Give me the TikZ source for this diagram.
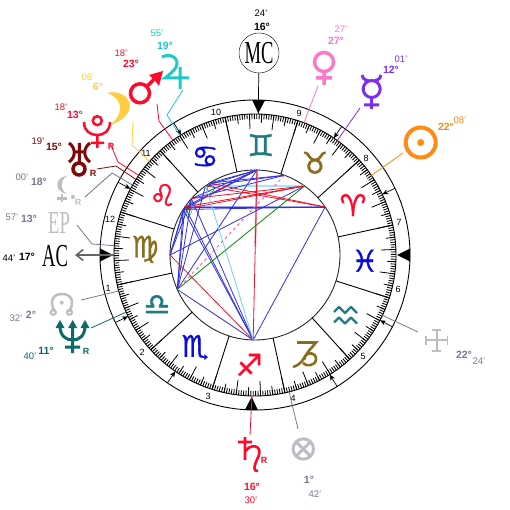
\documentclass[tikz,border=0pt]{standalone}
\usepackage{fontspec}
\setmainfont{Liberation Sans}
\newfontfamily\symfont{DejaVu Sans}[FakeBold=1.2]
\newfontfamily\capfont{Liberation Serif}
\usetikzlibrary{arrows.meta,calc}
\definecolor{fireRed}{HTML}{FF0A2D}
\definecolor{earthBrown}{HTML}{8A6D1E}
\definecolor{airTeal}{HTML}{207C80}
\definecolor{waterBlue}{HTML}{0A0ADC}
\definecolor{sunOrange}{HTML}{FF8A14}
\definecolor{merViolet}{HTML}{7B30F0}
\definecolor{venPink}{HTML}{FF78C8}
\definecolor{jupCyan}{HTML}{1CC8C8}
\definecolor{moonYellow}{HTML}{FFCC44}
\definecolor{uraMaroon}{HTML}{800808}
\definecolor{nepTeal}{HTML}{0E6A66}
\definecolor{ghostGrey}{HTML}{BCBEC4}
\definecolor{slateGrey}{HTML}{747890}
\definecolor{aspBlue}{HTML}{3030E0}
\definecolor{aspRed}{HTML}{E8142C}
\definecolor{aspSky}{HTML}{70D0F0}
\newcommand{\capSq}[1]{\scalebox{0.58}[1]{#1}}
\begin{document}
\begin{tikzpicture}
[x=1pt,y=-1pt,
    signDecorate/.style={inner sep=0pt,font=\symfont\fontsize{30}{30}\selectfont},%
    degDecorate/.style={inner sep=0pt,font=\bfseries\fontsize{10.5}{11}\selectfont},%
    minDecorate/.style={inner sep=0pt,font=\fontsize{9.5}{10}\selectfont},%
    retroDecorate/.style={inner sep=0pt,font=\bfseries\fontsize{9}{10}\selectfont},%
    capDecorate/.style={inner sep=0pt,font=\capfont\fontsize{32}{32}\selectfont},%
    houseDecorate/.style={inner sep=0pt,font=\fontsize{9}{10}\selectfont},%
    lineDecorate/.style={line width=0.8pt},%
    aspectDecorate/.style={line width=0.8pt},%
    glyphDecorate/.style={line width=3pt,fill=none}]
    \useasboundingbox (0,0) rectangle (510,510);
    \begin{scope}[shift={(255,255)},y=1pt]
    %% rings and ticks
    \draw[line width=0.9pt] (0,0) circle (155);
    \draw[line width=0.9pt] (0,0) circle (141);
    \draw[black!85,line width=0.9pt] (0,0) circle (85);
    \foreach \a in {0,...,359}
    {
        \draw[line width=0.85pt] (12.27+\a:141) -- (12.27+\a:136);
    }
    \foreach \a in {0,10,...,350}
    {
        \draw[line width=0.8pt] (17.27+\a:141) -- (17.27+\a:132);
        \draw[line width=0.8pt] (12.27+\a:141) -- (12.27+\a:126);
    }
    %% sign dividers
    \foreach \a in {0,30,...,330}
    {
        \draw[line width=0.9pt] (12.27+\a:85) -- (12.27+\a:141);
    }
    %% sign glyphs
    \foreach \nodename/\glyph/\col/\a in {aries/♈/fireRed/27, taurus/♉/earthBrown/57, gemini/♊/airTeal/87, cancer/♋/waterBlue/117, leo/♌/fireRed/147, virgo/♍/earthBrown/177, libra/♎/airTeal/207, scorpio/♏/waterBlue/237, sagit/♐/fireRed/267, pisces/♓/waterBlue/357}
    {
        \node (\nodename) at (\a:110) [signDecorate,text=\col] {\glyph};
    }
    %% points on the inner ring and on the tick ring
    \foreach \nodename/\a in {Sun/34.4, Mer/54.3, Ven/69.7, Mc/88.67, Jup/122.2, Mar/125.6, Moo/138.4, Plu/145.6, Ura/147.6, Lil/150.3, Ep/176.2, Asc/180, Nod/194.8, Nep/203.9, Sat/268.77, For/284, Vtx/334.67}
    {
        \coordinate (\nodename) at (\a:85);
        \coordinate (\nodename T) at (\a:141);
    }
    %% angle marks
    \foreach \a in {0,88.67,180,268.67}
    {
        \fill[rotate=\a] (142,0) -- (155,6.5) -- (155,-6.5) -- cycle;
    }
    %% house arrows
    \foreach \a in {25.5,56,121.6,152,205.8,235.6,302,332.4}
    {
        \draw[-{Stealth[length=6pt,width=5pt]},line width=0.7pt] (\a:155) -- (\a:141);
    }
    \end{scope}
    %% the two signs the font draws too unlike
    \foreach \y in {307,317.5}
    {
        \draw[glyphDecorate,airTeal,line width=2.2pt,line join=round] (334,\y+5) -- (339,\y) -- (345,\y+6) -- (351,\y) -- (357,\y+6);
    }
    \draw[glyphDecorate,earthBrown,line width=2.6pt] (297,342.5) -- (316,342.5) .. controls (312,348) and (306,352) .. (304,360) (293,367) .. controls (296,366) and (301,364) .. (304,358) .. controls (307,351) and (316,352) .. (316,359) .. controls (316,366) and (306,367) .. (303,363);
    %% house numbers
    \foreach \nodename/\x/\y in {1/108/288, 2/142/352, 3/208/396, 4/293/398, 5/363/356, 6/398/289, 7/399/222, 8/366/158, 9/299/113, 10/216/112, 11/146/153, 12/110/219}
    {
        \node (house\nodename) at (\x,\y) [houseDecorate] {\nodename};
    }
    %% aspects
    \draw[aspBlue!45,line width=2pt] (Sun) -- (Plu);
    \draw[aspSky!60,line width=2pt] (Mer) -- (Mar);
    \draw[aspRed!40,line width=2pt] (Mc) -- ($(Mc)!0.45!(Sat)$);
    \path\foreach \startnode/\endnode in {Mc/Jup, Mc/Mar, Mc/Moo, Mc/Plu, Mc/Ura, Mc/Nep, Sun/Sat, Sun/Plu, Sun/Ura, Ven/Jup, Ven/Mar, Ven/Moo, Asc/Mer, Asc/Moo, Asc/Plu, Asc/Ura, Nep/Moo, Nep/Plu, Nep/Ura, Nep/Mar, Nep/Sat, Sat/Moo, Sat/Plu, Sat/Ura}
    {
        (\startnode) edge[aspectDecorate,aspBlue] (\endnode)
    };
    \path\foreach \startnode/\endnode in {Sat/Mc, Asc/Sat, Sun/Mar, Sun/Jup, Mer/Moo, Mer/Plu, Mer/Ura}
    {
        (\startnode) edge[aspectDecorate,aspRed] (\endnode)
    };
    \draw[aspectDecorate,aspSky] (Sat) -- (Mar);
    \draw[aspectDecorate,green!55!black] (Mer) -- (Nep);
    \draw[aspectDecorate,magenta!70,dashed] (Ven) -- (Nep);
    %% conjunction marks
    \draw[green!55!black] (210.7,188.7) circle (3.5);
    \draw[green!55!black] (188,211.7) circle (3.5);
    \draw[aspBlue] (192.7,205.7) circle (3.5);
    %% planets
    \draw[glyphDecorate,sunOrange,line width=4pt] (420.7,142.5) circle (15);
    \fill[sunOrange] (420.7,142.5) circle (3.5);
    \draw[glyphDecorate,merViolet] (371.7,89) circle (8.5) (362,75) .. controls (363,80) and (367,81) .. (371.7,81) .. controls (376,81) and (380,80) .. (381,75) (371.7,97.5) -- (371.7,109) (364,105) -- (379,105);
    \draw[glyphDecorate,venPink,line width=3.5pt] (324,62) circle (9.5) (324,71.5) -- (324,85) (316,78) -- (332,78);
    \draw[glyphDecorate,fireRed,line width=3.5pt] (140,93.3) circle (9.5) (147,86.5) -- (158,75);
    \fill[fireRed] (163,71) -- (149,75) -- (152,78) -- (156,82) -- (159,86) -- cycle;
    \draw[glyphDecorate,jupCyan] (162,57) .. controls (172,52) and (180,60) .. (176,67) .. controls (174,71) and (170,74) .. (165,78) -- (189,78) (180,67) -- (180,89);
    \fill[moonYellow] (109,93) .. controls (129,90) and (141,112) .. (112,124) .. controls (124,114) and (124,100) .. (109,93) -- cycle;
    \draw[glyphDecorate,moonYellow,line width=1pt] (109,93) .. controls (129,90) and (141,112) .. (112,124) .. controls (124,114) and (124,100) .. (109,93) -- cycle;
    \draw[glyphDecorate,fireRed,line width=2.5pt] (97.3,120.7) circle (4.5) (84,122) .. controls (84,131) and (90,135) .. (97.3,135) .. controls (104,135) and (110,131) .. (110,122) (97.3,135) -- (97.3,148) (91,143) -- (104,143);
    \draw[glyphDecorate,uraMaroon] (69,143) .. controls (76,148) and (76,157) .. (69,162) (90,143) .. controls (83,148) and (83,157) .. (90,162) (75,152) -- (84,152) (79.3,143) -- (79.3,163);
    \draw[glyphDecorate,uraMaroon,line width=3.5pt] (79,169) circle (6);
    \draw[glyphDecorate,ghostGrey,line width=2.5pt] (62,194) -- (62,202) (57,198.5) -- (67,198.5);
    \fill[ghostGrey] (67,176) .. controls (54,177) and (54,192) .. (67,194) .. controls (60,190) and (60,180) .. (67,176) -- cycle;
    \fill[ghostGrey] (73,197) circle (2);
    \draw[glyphDecorate,ghostGrey,line width=2.5pt] (55,312) .. controls (48,300) and (54,294) .. (62,294) .. controls (70,294) and (76,300) .. (69,312);
    \draw[glyphDecorate,ghostGrey,line width=2pt] (53.3,312.3) circle (2.6) (69.5,312.3) circle (2.6);
    \fill[ghostGrey] (61.7,302.7) circle (2);
    \draw[glyphDecorate,nepTeal] (60,326) .. controls (60,336) and (66,340) .. (72.7,340) .. controls (79,340) and (85,336) .. (85,326) (72.7,326) -- (72.7,353) (65,347) -- (80,347);
    \fill[nepTeal] (60,320) -- (64.5,328) -- (55.5,328) -- cycle (72.7,320) -- (77.2,328) -- (68.2,328) -- cycle (85,320) -- (89.5,328) -- (80.5,328) -- cycle;
    \draw[glyphDecorate,fireRed,line width=2.6pt] (245,437) -- (245,460) (238,442) -- (252,442) (245,452) .. controls (250,443) and (262,445) .. (259,455) .. controls (256,462) and (251,471) .. (258,471);
    \draw[glyphDecorate,ghostGrey] (303.3,449) circle (10.2) (296.1,441.8) -- (310.5,456.2) (296.1,456.2) -- (310.5,441.8);
    \draw[glyphDecorate,ghostGrey,line width=1.8pt] (426,340) -- (448,340) (436.7,329.5) -- (436.7,351.5) (426,335.5) -- (426,344.5) (447.5,335.5) -- (447.5,344.5) (432.2,330) -- (441.2,330) (432.2,351) -- (441.2,351);
    \node (mcRing) at (259,53) [draw,circle,minimum size=40pt,inner sep=0pt] {};
    \node (mcG) at (259,53) [capDecorate] {\capSq{MC}};
    \node (acG) at (55,256) [capDecorate] {\capSq{AC}};
    \node (epG) at (59,223) [capDecorate,text=ghostGrey] {\capSq{EP}};
    %% free ends of the connectors
    \foreach \nodename/\x/\y in {sunE/403/153, merE/360/108, venE/318/86, jupE/183/90, jupB/167/115, marE/157/104, marB/159/121, mooE/133/122, mooB/132/145, pluE/110/143, pluB/118/162, uraE/97/169, uraB/116/166, lilE/85/197, lilB/112/173, epE/77/225, epB/92/244, nodE/81/300, nepE/91/328, forE/298/429, vtxE/418/332, satE/250/435, acE/75/255}
    {
        \coordinate (\nodename) at (\x,\y);
    }
    %% connectors
    \draw[lineDecorate,sunOrange] (sunE) -- (SunT);
    \draw[lineDecorate,merViolet] (merE) -- (MerT);
    \draw[lineDecorate,venPink] (venE) -- (VenT);
    \draw[lineDecorate,jupCyan] (jupE) -- (jupB) -- (JupT);
    \draw[lineDecorate,fireRed] (marE) -- (marB) -- (MarT);
    \draw[lineDecorate,moonYellow] (mooE) -- (mooB) -- (MooT);
    \draw[lineDecorate,fireRed] (pluE) -- (pluB) -- (PluT);
    \draw[lineDecorate,uraMaroon] (uraE) -- (uraB) -- (UraT);
    \draw[lineDecorate,slateGrey] (lilE) -- (lilB) -- (LilT);
    \draw[lineDecorate,slateGrey] (epE) -- (epB) -- (EpT);
    \draw[lineDecorate,slateGrey] (nodE) -- (NodT);
    \draw[lineDecorate,nepTeal] (nepE) -- (NepT);
    \draw[lineDecorate,slateGrey] (forE) -- (ForT);
    \draw[lineDecorate,slateGrey] (vtxE) -- (VtxT);
    \draw[lineDecorate,fireRed] (satE) -- (SatT);
    \draw[line width=0.7pt] (mcRing) -- (McT);
    \draw[-{Straight Barb[length=7pt,width=11pt]},line width=1.6pt,black!60] (AscT) -- (acE);
    %% degree and minute labels
    \foreach \nodename/\col/\x/\y/\deg/\u/\v/\m in {sun/sunOrange/446/127/22/460/120/08, mer/merViolet/391/70/12/401/59/01, ven/venPink/336/41/27/341/29/27, mc/black/262/27/16/261/13/24, jup/jupCyan/165/46/19/157/33/55, mar/fireRed/131/64/23/121/53/18, moo/moonYellow/98/87/6/88/77/06, plu/fireRed/75/115/13/61/107/18, ura/uraMaroon/54/147/15/38/141/19, lil/slateGrey/39/182/18/22/177/00, ep/slateGrey/29/219/13/12/217/57, ac/black/27/257/17/9/258/44, nod/slateGrey/31/315/2/16/318/32, nep/nepTeal/46/351/11/30/356/40, sat/fireRed/252/487/16/251/500/30, for/slateGrey/309/480/1/315/494/42, vtx/slateGrey/464/355/22/479/361/24}
    {
        \node (\nodename Deg) at (\x,\y) [degDecorate,text=\col] {\deg°};
        \node (\nodename Min) at (\u,\v) [minDecorate,text=\col] {\m'};
    }
    %% retrograde marks
    \foreach \nodename/\col/\x/\y in {plu/fireRed/111/146, ura/uraMaroon/93/173, lil/ghostGrey/78/202, nep/nepTeal/86/351, sat/fireRed/264/460}
    {
        \node (\nodename Ret) at (\x,\y) [retroDecorate,text=\col] {R};
    }
\end{tikzpicture}
\end{document}
